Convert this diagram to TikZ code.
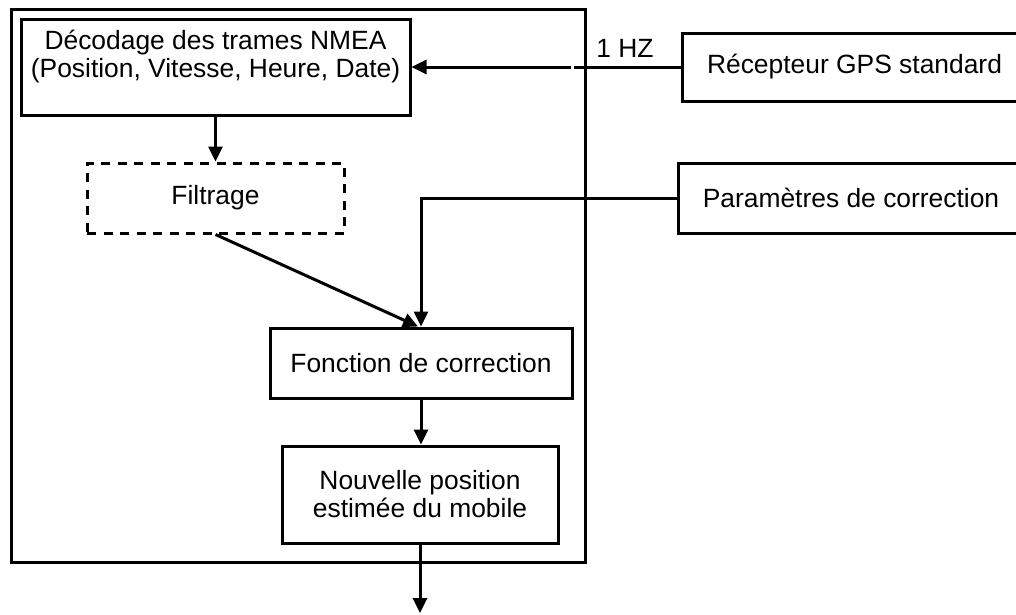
\documentclass[tikz,border=0pt]{standalone}
\usepackage{fontspec}
\setmainfont{Liberation Sans}
\usetikzlibrary{arrows.meta}
\tikzset{
  box/.style={draw, line width=3pt, rectangle, inner sep=0pt, align=center},
  dbox/.style={box, dash pattern=on 9pt off 7.5pt},
  conn/.style={line width=3pt},
  arr/.style={conn, -{Triangle[length=15pt,width=14pt]}},
  lbl/.style={inner sep=0pt, align=center}
}
\begin{document}
\begin{tikzpicture}[x=1pt,y=-1pt,font=\fontsize{26.4}{28}\selectfont]
\useasboundingbox (0,0) rectangle (1016,614);
\clip (0,0) rectangle (1016,614);
% outer system box
\node[box, minimum width=574pt, minimum height=553pt] (sys) at (298,285.5) {};
% blocks
\node[box, minimum width=389pt, minimum height=96pt] (dec) at (215.5,67) {};
\node[lbl] (dectxt) at (215.5,56.5) {Décodage des trames NMEA\\(Position, Vitesse, Heure, Date)};
\node[dbox, minimum width=257pt, minimum height=70pt] (filt) at (215.5,198) {Filtrage};
\node[box, minimum width=302pt, minimum height=70pt] (fonc) at (421,363) {Fonction de correction};
\node[box, minimum width=276pt, minimum height=97pt] (nouv) at (420,494.5) {Nouvelle position\\estimée du mobile};
\node[box, minimum width=345pt, minimum height=68pt] (gps) at (854.5,67) {Récepteur GPS standard};
\node[box, minimum width=346pt, minimum height=70pt] (par) at (851,198) {Paramètres de correction};
\node[lbl] (hz) at (625,48) {1 HZ};
% free-end coordinates
\coordinate (gapR) at (574,67);
\coordinate (gapL) at (571,67);
\coordinate (out) at (420,613);
% connectors
\draw[conn] (gps.west) -- (gapR);
\draw[arr] (gapL) -- (dec.east);
\draw[arr] (dec.south) -- (filt.north);
\draw[arr] (filt.south) -- ([xshift=-3pt]fonc.north);
\draw[arr] (par.west) -| (fonc.north);
\draw[arr] (fonc.south) -- (fonc.south |- nouv.north);
\draw[arr] (nouv.south) -- (out);
\end{tikzpicture}
\end{document}
